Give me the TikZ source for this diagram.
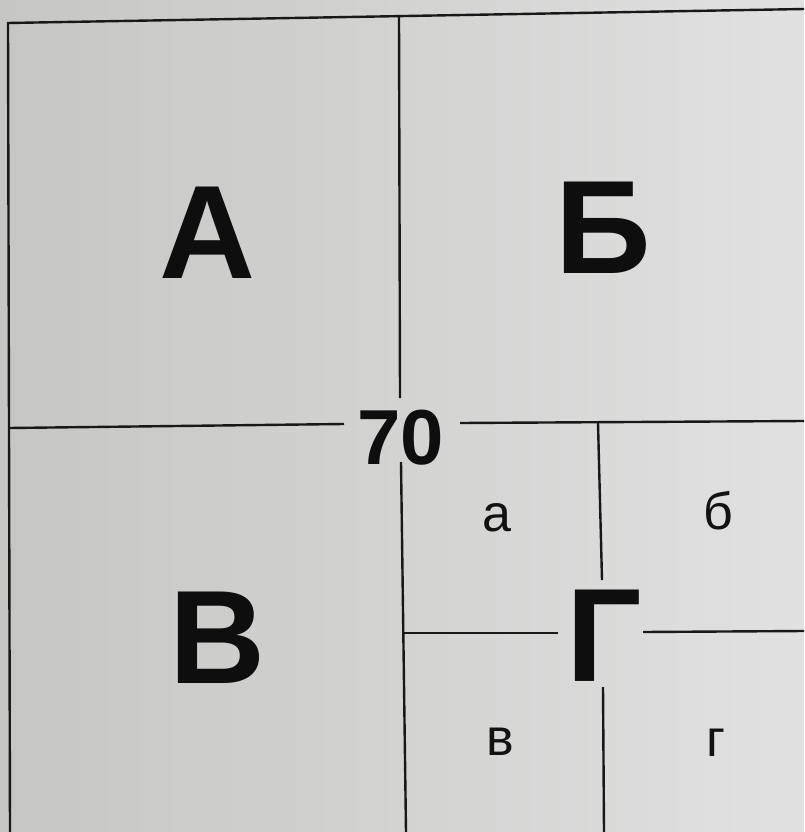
\documentclass[tikz,border=0pt]{standalone}
\usepackage{fontspec}
\setmainfont{Liberation Sans}
\begin{document}
\begin{tikzpicture}[x=1pt,y=-1pt,
  rule/.style={line width=2.4pt, draw={rgb,255:red,24;green,24;blue,24}},
  big/.style={font=\fontsize{133}{133}\selectfont\bfseries, text={rgb,255:red,14;green,14;blue,14}, inner sep=0pt, anchor=base},
  num/.style={font=\fontsize{78}{78}\selectfont\bfseries, text={rgb,255:red,14;green,14;blue,14}, inner sep=0pt, anchor=base},
  small/.style={font=\fontsize{52}{52}\selectfont, text={rgb,255:red,18;green,18;blue,18}, inner sep=0pt, anchor=base}]
\shade[left color={rgb,255:red,198;green,199;blue,196}, right color={rgb,255:red,224;green,225;blue,224}] (0,0) rectangle (804,832);
\useasboundingbox (0,0) rectangle (804,832);
% outer frame
\coordinate (tl) at (8,23);
\coordinate (tr) at (804,9);
\coordinate (bl) at (10,832);
\draw[rule] (bl) -- (tl) -- (tr);
% main vertical
\coordinate (v1a) at (399,16);
\coordinate (v1b) at (400,398);
\coordinate (v1c) at (401,462);
\coordinate (v1d) at (406,832);
\draw[rule] (v1a) -- (v1b);
\draw[rule] (v1c) -- (v1d);
% main horizontal
\coordinate (h1a) at (9,428);
\coordinate (h1b) at (344,424);
\coordinate (h1c) at (460,423);
\coordinate (h1d) at (804,421);
\draw[rule] (h1a) -- (h1b);
\draw[rule] (h1c) -- (h1d);
% quadrant Г subdivisions
\coordinate (v2a) at (598,423);
\coordinate (v2b) at (602,580);
\coordinate (v2c) at (603,687);
\coordinate (v2d) at (604,832);
\draw[rule] (v2a) -- (v2b);
\draw[rule] (v2c) -- (v2d);
\coordinate (h2a) at (404,633);
\coordinate (h2b) at (558,633);
\coordinate (h2c) at (643,632);
\coordinate (h2d) at (804,631);
\draw[rule] (h2a) -- (h2b);
\draw[rule] (h2c) -- (h2d);
% labels
\node[big] (A) at (208,278) {А};
\node[big] (B) at (603,273) {Б};
\node[big] (V) at (218,683) {В};
\node[big] (G) at (604,681) {Г};
\node[num] (n70) at (401,464) {70};
\node[small] (a) at (497,531) {а};
\node[small] (b) at (718,529) {б};
\node[small] (v) at (500,755) {в};
\node[small] (g) at (716,756) {г};
\end{tikzpicture}
\end{document}
